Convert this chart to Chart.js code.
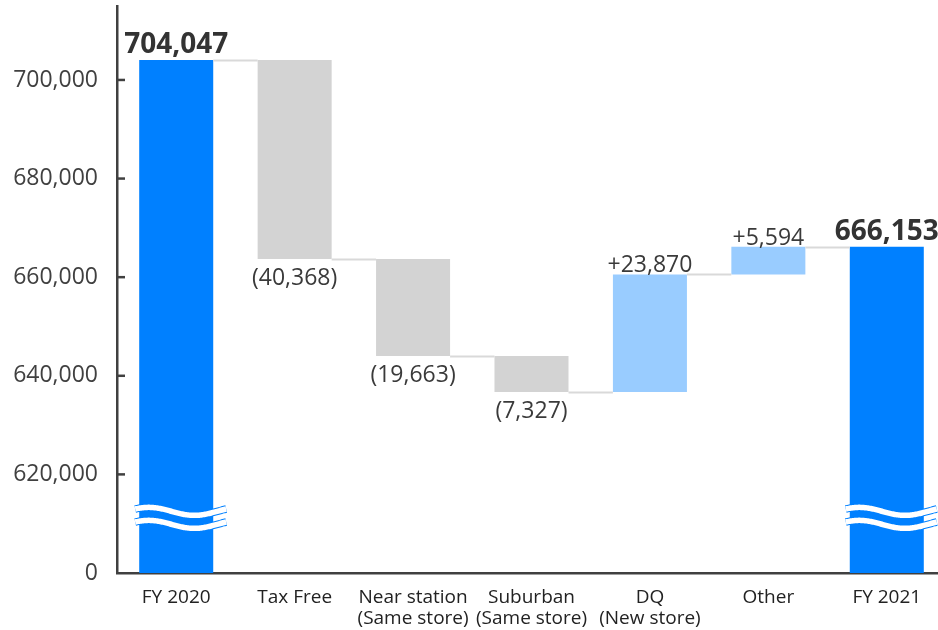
<!DOCTYPE html>
<html>
<head>
<meta charset="utf-8">
<script src="https://cdn.jsdelivr.net/npm/chart.js@4.4.0/dist/chart.umd.min.js"></script>
<style>
  html, body { margin: 0; padding: 0; background: #fff; overflow: hidden; }
  #wrap { width: 950px; height: 630px; }
</style>
</head>
<body>
<div id="wrap"><canvas id="bridgeChart" width="950" height="630"></canvas></div>
<script>
// chart values
const categories = [
    'FY 2020',
    'Tax Free',
    ['Near station', '(Same store)'],
    ['Suburban', '(Same store)'],
    ['DQ', '(New store)'],
    'Other',
    'FY 2021'
];
const startTotal = 704047;
const changes = [-40368, -19663, -7327, 23870, 5594];
const endTotal = 666153;
const axisBase = 600000;          // shown as "0" (broken axis)
const breakValue = 612500;        // where the wave break sits
const yTickValues = [600000, 620000, 640000, 660000, 680000, 700000];

const BLUE = '#0080FF';
const LIGHT_BLUE = '#99CCFF';
const GRAY = '#D3D3D3';
const AXIS = '#404040';
const TEXT = '#3a3a3a';

// build floating bars from the values
const bars = [[axisBase, startTotal]];
const levels = [startTotal];
const colors = [BLUE];
let running = startTotal;
changes.forEach(d => {
    bars.push([running, running + d]);
    running += d;
    levels.push(running);
    colors.push(d < 0 ? GRAY : LIGHT_BLUE);
});
bars.push([axisBase, endTotal]);
colors.push(BLUE);

const fmt = v => Math.abs(v).toLocaleString('en-US');

// connectors, value labels, wave breaks, inward ticks
const waterfallExtras = {
    id: 'waterfallExtras',
    afterDatasetsDraw(chart) {
        const ctx = chart.ctx;
        const meta = chart.getDatasetMeta(0);
        const y = chart.scales.y;
        const area = chart.chartArea;

        ctx.save();
        // connector lines
        ctx.strokeStyle = '#D9D9D9';
        ctx.lineWidth = 2;
        for (let i = 0; i < meta.data.length - 1; i++) {
            const a = meta.data[i], b = meta.data[i + 1];
            const py = Math.round(y.getPixelForValue(levels[i])) + 0.5;
            ctx.beginPath();
            ctx.moveTo(a.x + a.width / 2, py);
            ctx.lineTo(b.x - b.width / 2, py);
            ctx.stroke();
        }

        // wave breaks on the total bars
        [0, meta.data.length - 1].forEach(i => {
            const el = meta.data[i];
            const L = el.x - el.width / 2 - 4;
            const R = el.x + el.width / 2 + 13;
            const W = R - L;
            const c0 = y.getPixelForValue(breakValue);
            [c0, c0 + 13].forEach(c => {
                const path = () => {
                    ctx.beginPath();
                    for (let x = L; x <= R; x += 1) {
                        const py = c + 4 * Math.sin(2 * Math.PI * (x - L) / W - 2.513);
                        if (x === L) ctx.moveTo(x, py); else ctx.lineTo(x, py);
                    }
                };
                path();
                ctx.strokeStyle = BLUE;
                ctx.lineWidth = 7.5;
                ctx.stroke();
                path();
                ctx.strokeStyle = '#FFFFFF';
                ctx.lineWidth = 5.5;
                ctx.stroke();
            });
        });

        // inward tick marks on the y axis
        ctx.strokeStyle = AXIS;
        ctx.lineWidth = 2.5;
        y.ticks.forEach(t => {
            if (t.value <= axisBase) return;
            const py = y.getPixelForValue(t.value);
            ctx.beginPath();
            ctx.moveTo(area.left, py);
            ctx.lineTo(area.left + 8, py);
            ctx.stroke();
        });

        // value labels
        ctx.textAlign = 'center';
        ctx.textBaseline = 'alphabetic';
        meta.data.forEach((el, i) => {
            const top = Math.min(el.y, el.base);
            const bottom = Math.max(el.y, el.base);
            if (i === 0 || i === meta.data.length - 1) {
                const v = i === 0 ? startTotal : endTotal;
                ctx.font = 'bold 28px "Open Sans", sans-serif';
                ctx.fillStyle = '#333333';
                ctx.fillText(fmt(v), el.x, top - 7);
            } else {
                const d = changes[i - 1];
                ctx.font = '23px "Open Sans", sans-serif';
                ctx.fillStyle = TEXT;
                if (d < 0) {
                    ctx.fillText('(' + fmt(d) + ')', el.x, bottom + 26);
                } else {
                    ctx.fillText('+' + fmt(d), el.x, top - 2);
                }
            }
        });
        ctx.restore();
    }
};

new Chart(document.getElementById('bridgeChart').getContext('2d'), {
    type: 'bar',
    data: {
        labels: categories,
        datasets: [{
            data: bars,
            backgroundColor: colors,
            borderWidth: 0,
            barPercentage: 1,
            categoryPercentage: 0.625
        }]
    },
    options: {
        responsive: false,
        animation: false,
        devicePixelRatio: 1,
        layout: { padding: { top: 6, right: 4, left: 0, bottom: 0 } },
        plugins: {
            legend: { display: false },
            tooltip: { enabled: false }
        },
        scales: {
            x: {
                grid: { display: false, drawTicks: false },
                border: { display: true, color: AXIS, width: 2.5 },
                ticks: {
                    padding: 14,
                    color: '#222222',
                    font: { family: '"Open Sans", sans-serif', size: 19, lineHeight: 1.1 },
                    maxRotation: 0,
                    autoSkip: false
                },
                afterFit(scale) {
                    scale.height = 57;
                    scale.paddingLeft = 0;
                    scale.paddingRight = 0;
                }
            },
            y: {
                min: axisBase,
                max: 715000,
                grid: { display: false, drawTicks: false },
                border: { display: true, color: AXIS, width: 2.5 },
                afterBuildTicks(scale) {
                    scale.ticks = yTickValues.map(v => ({ value: v }));
                },
                ticks: {
                    padding: 19,
                    color: AXIS,
                    font: { family: '"Open Sans", sans-serif', size: 23 },
                    callback: v => v === axisBase ? '0' : v.toLocaleString('en-US')
                },
                afterFit(scale) {
                    scale.width = 117;
                    scale.paddingTop = 0;
                    scale.paddingBottom = 0;
                }
            }
        }
    },
    plugins: [waterfallExtras]
});
</script>
</body>
</html>
